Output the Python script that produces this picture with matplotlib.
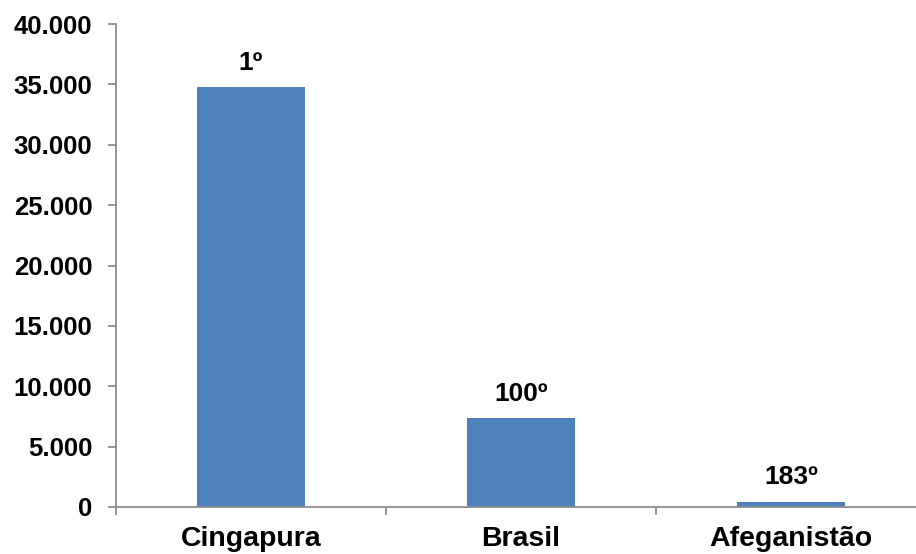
import numpy as np
import matplotlib.pyplot as plt
from matplotlib.ticker import FuncFormatter, FixedLocator

paises = ['Cingapura', 'Brasil', 'Afeganistão']
valores = [34750, 7350, 430]
posicoes = ['1º', '100º', '183º']
y_ticks = [0, 5000, 10000, 15000, 20000, 25000, 30000, 35000, 40000]

plt.rcParams['font.family'] = ['Liberation Sans', 'DejaVu Sans']

fig = plt.figure(figsize=(9.16, 5.54), dpi=100)
ax = fig.add_axes([116 / 916, 1 - 507 / 554, 800 / 916, 483 / 554])

x = np.arange(len(paises))
ax.bar(x, valores, width=0.4, color='#4f81bd', zorder=2)

# rank labels above each bar
for xi, v, p in zip(x, valores, posicoes):
    ax.annotate(p, (xi, v), xytext=(0, 12.5), textcoords='offset points',
                ha='center', va='baseline', fontsize=19, fontweight='bold')

ax.set_xlim(-0.5, 2.463)
ax.set_ylim(0, 40000)
ax.set_yticks(y_ticks)
ax.yaxis.set_major_formatter(FuncFormatter(lambda v, _: f'{int(v):,}'.replace(',', '.')))

ax.set_xticks(x)
ax.set_xticklabels(paises)
ax.xaxis.set_minor_locator(FixedLocator([-0.5, 0.5, 1.5]))
ax.tick_params(axis='x', which='major', length=0, pad=14)
ax.tick_params(axis='x', which='minor', length=6, width=1.3, color='#8c8c8c')
ax.tick_params(axis='y', length=6, width=1.3, color='#8c8c8c', pad=11)

for lbl in ax.get_xticklabels():
    lbl.set_fontsize(20.5)
    lbl.set_fontweight('bold')
for lbl in ax.get_yticklabels():
    lbl.set_fontsize(18.5)
    lbl.set_fontweight('bold')

for side in ['top', 'right']:
    ax.spines[side].set_visible(False)
for side in ['left', 'bottom']:
    ax.spines[side].set_color('#8c8c8c')
    ax.spines[side].set_linewidth(1.3)

fig.savefig('out.png', dpi=100)
